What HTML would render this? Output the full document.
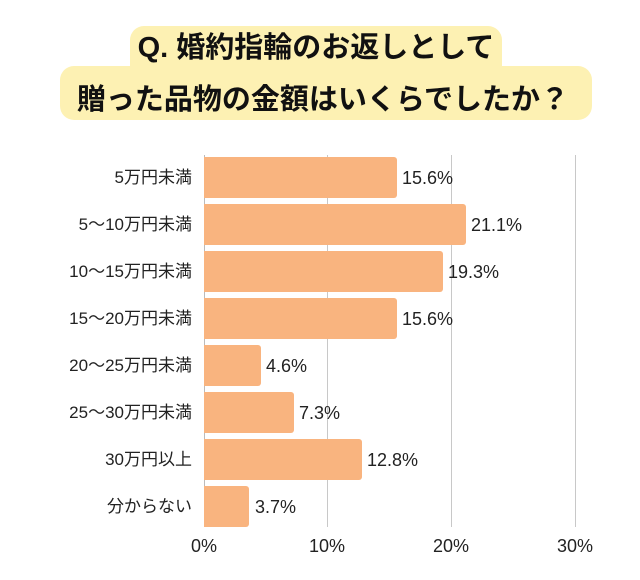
<!DOCTYPE html>
<html><head><meta charset="utf-8"><style>
body{margin:0;background:#fff;width:640px;height:580px;position:relative;overflow:hidden;font-family:"Liberation Sans","Noto Sans CJK JP",sans-serif;}
.b{position:absolute;background:#fdf1b3;}
.t{position:absolute;left:0;width:640px;text-align:center;font-weight:bold;font-size:29px;color:#111;line-height:34px;}
.g{position:absolute;top:155px;height:372px;width:1px;background:#c8c8c8;}
.bar{position:absolute;left:204px;height:41px;background:#f9b47f;border-radius:0 3px 3px 0;}
.l{position:absolute;right:448px;font-size:17px;color:#222;line-height:20px;white-space:nowrap;}
.v{position:absolute;font-size:18px;color:#222;line-height:20px;}
.x{position:absolute;top:536px;font-size:18px;color:#222;width:60px;text-align:center;}
</style></head><body>
<div class="b" style="left:130px;top:26px;width:372px;height:56px;border-radius:14px"></div>
<div class="b" style="left:60px;top:66px;width:532px;height:54px;border-radius:14px"></div>
<div class="t" style="top:31px;left:-4px">Q. 婚約指輪のお返しとして</div>
<div class="t" style="top:83px;left:3px">贈った品物の金額はいくらでしたか？</div>
<div class="g" style="left:204px;background:#bbb"></div>
<div class="g" style="left:327px"></div>
<div class="g" style="left:451px"></div>
<div class="g" style="left:575px"></div>

<div class="bar" style="top:157px;width:193px"></div><div class="l" style="top:168px">5万円未満</div><div class="v" style="top:168px;left:402px">15.6%</div>
<div class="bar" style="top:204px;width:262px"></div><div class="l" style="top:215px">5～10万円未満</div><div class="v" style="top:215px;left:471px">21.1%</div>
<div class="bar" style="top:251px;width:239px"></div><div class="l" style="top:262px">10～15万円未満</div><div class="v" style="top:262px;left:448px">19.3%</div>
<div class="bar" style="top:298px;width:193px"></div><div class="l" style="top:309px">15～20万円未満</div><div class="v" style="top:309px;left:402px">15.6%</div>
<div class="bar" style="top:345px;width:57px"></div><div class="l" style="top:356px">20～25万円未満</div><div class="v" style="top:356px;left:266px">4.6%</div>
<div class="bar" style="top:392px;width:90px"></div><div class="l" style="top:403px">25～30万円未満</div><div class="v" style="top:403px;left:299px">7.3%</div>
<div class="bar" style="top:439px;width:158px"></div><div class="l" style="top:450px">30万円以上</div><div class="v" style="top:450px;left:367px">12.8%</div>
<div class="bar" style="top:486px;width:45px"></div><div class="l" style="top:497px">分からない</div><div class="v" style="top:497px;left:255px">3.7%</div>

<div class="x" style="left:174px">0%</div>
<div class="x" style="left:297px">10%</div>
<div class="x" style="left:421px">20%</div>
<div class="x" style="left:545px">30%</div>
</body></html>
